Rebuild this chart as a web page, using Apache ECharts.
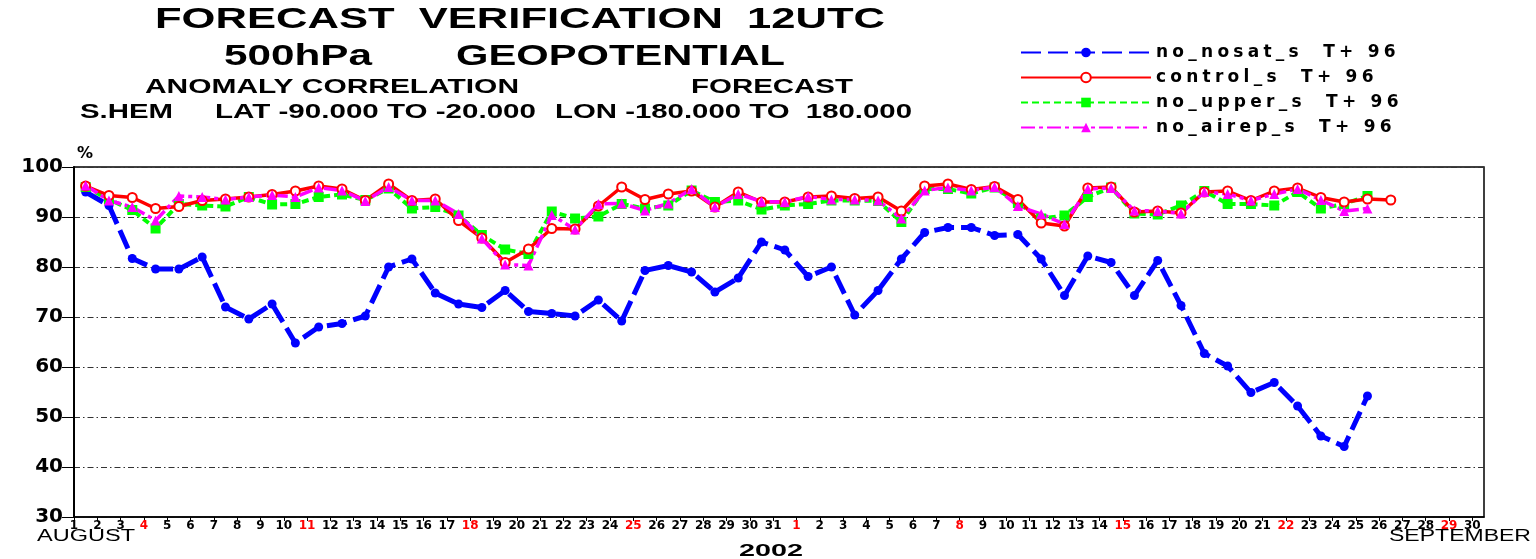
<!DOCTYPE html>
<html>
<head>
<meta charset="utf-8">
<title>Forecast verification 12UTC</title>
<script src="https://cdn.jsdelivr.net/npm/echarts@6/dist/echarts.min.js"></script>
<style>
html, body { margin: 0; padding: 0; background: #fff; }
#chart { width: 1536px; height: 559px; }
</style>
</head>
<body>
<div id="chart"></div>
<script>
// anomaly correlation (%), one value per day at 12UTC, starting 1 August 2002
var noNosat = [95.0, 92.3, 81.7, 79.6, 79.6, 82.0, 72.0, 69.6, 72.6, 64.8,
	68.0, 68.7, 70.2, 80.0, 81.6, 74.8, 72.6, 71.9, 75.3, 71.1,
	70.7, 70.2, 73.4, 69.2, 79.3, 80.3, 79.0, 75.0, 77.8, 85.0,
	83.4, 78.1, 80.0, 70.4, 75.3, 81.6, 86.9, 87.9, 87.9, 86.3,
	86.5, 81.6, 74.3, 82.2, 80.9, 74.3, 81.3, 72.3, 62.7, 60.2,
	54.9, 56.9, 52.2, 46.2, 44.1, 54.2]
var control = [96.2, 94.3, 93.9, 91.7, 92.1, 93.3, 93.6, 94.0, 94.5, 95.2,
	96.2, 95.6, 93.3, 96.6, 93.3, 93.6, 89.3, 85.8, 80.9, 83.6,
	87.7, 87.6, 92.2, 96.0, 93.5, 94.6, 95.2, 92.0, 95.0, 93.0,
	93.0, 94.0, 94.2, 93.7, 94.0, 91.2, 96.2, 96.6, 95.5, 96.1,
	93.5, 88.8, 88.2, 95.8, 96.0, 91.0, 91.2, 90.8, 95.0, 95.2,
	93.3, 95.2, 95.8, 93.9, 93.0, 93.6, 93.4]
var noUpper = [96.0, 93.5, 91.4, 87.7, 92.6, 92.3, 92.1, 94.0, 92.5, 92.6,
	94.0, 94.5, 93.4, 95.7, 91.7, 92.0, 90.3, 86.4, 83.5, 82.6,
	91.1, 89.7, 90.1, 92.6, 91.7, 92.3, 95.3, 93.0, 93.3, 91.5,
	92.3, 92.6, 93.3, 93.3, 93.2, 89.0, 95.6, 95.6, 94.7, 95.9,
	92.8, 89.7, 90.3, 94.0, 95.9, 90.7, 90.5, 92.3, 95.2, 92.6,
	92.6, 92.3, 95.0, 91.7, 92.6, 94.2]
var noAirep = [96.3, 93.3, 92.0, 89.3, 94.2, 94.0, 93.5, 94.0, 94.4, 94.0,
	95.9, 95.3, 93.2, 96.0, 93.3, 93.3, 90.6, 85.7, 80.5, 80.3,
	90.4, 87.5, 92.6, 92.7, 91.3, 92.7, 95.6, 92.0, 94.6, 93.1,
	93.0, 94.1, 93.5, 93.5, 93.3, 89.7, 95.3, 95.9, 95.3, 96.0,
	92.2, 90.6, 88.6, 95.6, 95.8, 91.3, 91.2, 90.7, 95.0, 94.6,
	93.3, 94.6, 95.6, 93.4, 91.2, 91.7]

// tick labels: day of month at 00UTC, 1 August .. 30 September
var dayLabels = ['1', '2', '3', '4', '5', '6', '7', '8', '9', '10',
	'11', '12', '13', '14', '15', '16', '17', '18', '19', '20',
	'21', '22', '23', '24', '25', '26', '27', '28', '29', '30', '31',
	'1', '2', '3', '4', '5', '6', '7', '8', '9', '10',
	'11', '12', '13', '14', '15', '16', '17', '18', '19', '20',
	'21', '22', '23', '24', '25', '26', '27', '28', '29', '30']
// sundays, as tick index
var sundays = [3, 10, 17, 24, 31, 38, 45, 52, 59]
var seriesNames = ['no_nosat_s', 'control_s', 'no_upper_s', 'no_airep_s']
var stepLabel = 'T+ 96'

var chart = echarts.init(document.getElementById('chart'))
var measureCtx = document.createElement('canvas').getContext('2d')

function at_noon (values) {
	return values.map(function (v, i) { return [i + 0.5, v] })
}

function spaced (s, sp) {
	return s.split('').join(sp)
}

// text stretched to the width it takes in the picture
function stretched (text, font, left, right, cy, color) {
	measureCtx.font = font
	var w = measureCtx.measureText(text).width
	return {
		type: 'text',
		x: left,
		y: cy,
		scaleX: (right - left) / w,
		silent: true,
		style: {text: text, font: font, fill: color || '#000', align: 'left', verticalAlign: 'middle'}
	}
}

var big = 'bold 30px "Liberation Sans", Arial, sans-serif'
var mid = 'bold 20px "Liberation Sans", Arial, sans-serif'
var month = '16px "Liberation Sans", Arial, sans-serif'

var option = {
	animation: false,
	backgroundColor: '#fff',
	grid: {left: 74, right: 52, top: 167, bottom: 42, show: true, borderColor: '#000', borderWidth: 1.5},
	legend: {
		data: seriesNames,
		orient: 'vertical',
		left: 1015,
		top: 39,
		itemWidth: 130,
		itemHeight: 12,
		itemGap: 8,
		formatter: function (name) { return spaced(name + '  ' + stepLabel, '\u2005') },
		textStyle: {fontFamily: 'DejaVu Sans', fontWeight: 'bold', fontSize: 17, color: '#000'}
	},
	xAxis: {
		type: 'value',
		min: 0,
		max: 60.5,
		interval: 1,
		splitLine: {show: false},
		axisLine: {lineStyle: {color: '#000', width: 1.5}},
		axisTick: {length: 4, lineStyle: {color: '#000'}},
		axisLabel: {
			margin: 3,
			showMaxLabel: false,
			fontFamily: 'DejaVu Sans',
			fontWeight: 'bold',
			fontSize: 12,
			color: '#000',
			formatter: function (v) {
				if (v !== Math.round(v) || !dayLabels[v]) {
					return ''
				}
				return sundays.indexOf(v) >= 0 ? '{r|' + dayLabels[v] + '}' : dayLabels[v]
			},
			rich: {r: {color: '#ff0000', fontFamily: 'DejaVu Sans', fontWeight: 'bold', fontSize: 12}}
		}
	},
	yAxis: {
		type: 'value',
		min: 30,
		max: 100,
		interval: 10,
		name: '%',
		nameLocation: 'end',
		nameGap: 5,
		nameTextStyle: {fontFamily: 'DejaVu Sans', fontWeight: 'bold', fontSize: 16, color: '#000', align: 'left', padding: [0, 0, 0, 3]},
		axisLine: {show: true, lineStyle: {color: '#000', width: 2}},
		axisTick: {show: true, length: 12, lineStyle: {color: '#000'}},
		axisLabel: {margin: 11, fontFamily: 'DejaVu Sans', fontWeight: 'bold', fontSize: 20, color: '#000'},
		splitLine: {show: true, lineStyle: {color: '#333', width: 1, type: [6, 3, 1.5, 3]}}
	},
	series: [
		{
			name: 'no_nosat_s',
			type: 'line',
			data: at_noon(noNosat),
			symbol: 'circle',
			symbolSize: 9,
			lineStyle: {color: '#0000ff', width: 5, type: [20, 7]},
			itemStyle: {color: '#0000ff'}
		},
		{
			name: 'no_upper_s',
			type: 'line',
			data: at_noon(noUpper),
			symbol: 'rect',
			symbolSize: 10,
			lineStyle: {color: '#00ff00', width: 4, type: [7, 4]},
			itemStyle: {color: '#00ff00'}
		},
		{
			name: 'control_s',
			type: 'line',
			data: at_noon(control),
			symbol: 'emptyCircle',
			symbolSize: 9,
			lineStyle: {color: '#ff0000', width: 3.5},
			itemStyle: {color: '#ff0000', borderWidth: 1}
		},
		{
			name: 'no_airep_s',
			type: 'line',
			data: at_noon(noAirep),
			symbol: 'triangle',
			symbolSize: 10,
			lineStyle: {color: '#ff00ff', width: 3.5, type: [14, 4, 4, 4]},
			itemStyle: {color: '#ff00ff'}
		}
	],
	graphic: [
		stretched('FORECAST  VERIFICATION  12UTC', big, 155, 885, 20),
		stretched('500hPa', big, 224, 372, 57),
		stretched('GEOPOTENTIAL', big, 456, 785, 57),
		stretched('ANOMALY CORRELATION', mid, 145, 519, 87),
		stretched('FORECAST', mid, 691, 853, 87),
		stretched('S.HEM', mid, 80, 173, 112),
		stretched('LAT -90.000 TO -20.000', mid, 215, 536, 112),
		stretched('LON -180.000 TO  180.000', mid, 555, 912, 112),
		stretched('AUGUST', month, 37, 135, 537),
		stretched('SEPTEMBER', month, 1389, 1531, 537),
		stretched('2002', 'bold 17px "Liberation Sans", Arial, sans-serif', 739, 803, 551)
	]
}

chart.setOption(option)
</script>
</body>
</html>
